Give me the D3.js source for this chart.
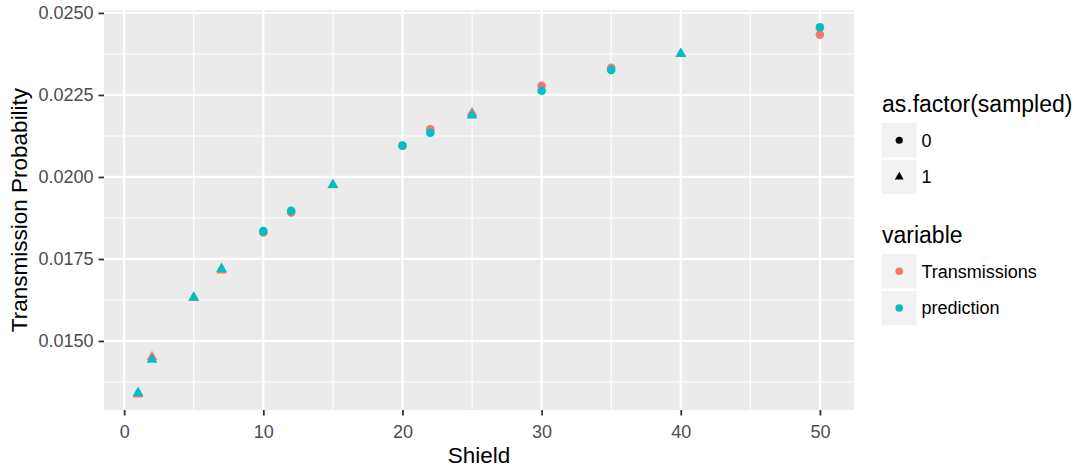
<!DOCTYPE html>
<html>
<head>
<meta charset="utf-8">
<script src="https://cdn.jsdelivr.net/npm/d3@7"></script>
<style>
  body { margin: 0; background: #ffffff; }
  svg { display: block; font-family: "Liberation Sans", Arial, Helvetica, sans-serif; }
</style>
</head>
<body>
<svg id="chart" width="1082" height="472"></svg>
<script>
// Shield settings and the observed / predicted transmission probability
const shield        = [1, 2, 5, 7, 10, 12, 15, 20, 22, 25, 30, 35, 40, 50];
const sampled       = [1, 1, 1, 1, 0, 0, 1, 0, 0, 1, 0, 0, 1, 0];
const transmissions = [0.01337, 0.01451, 0.01631, 0.01715, 0.01831, 0.01892, 0.01975,
                       0.02095, 0.02145, 0.02195, 0.02278, 0.02333, 0.02375, 0.02434];
const prediction    = [0.01342, 0.01443, 0.01633, 0.01720, 0.01835, 0.01897, 0.01976,
                       0.02096, 0.02135, 0.02188, 0.02263, 0.02326, 0.02376, 0.02456];

const xTicks = [0, 10, 20, 30, 40, 50];
const xMinor = [5, 15, 25, 35, 45];
const yTicks = [0.0150, 0.0175, 0.0200, 0.0225, 0.0250];
const yMinor = [0.01375, 0.01625, 0.01875, 0.02125, 0.02375];

const shapeLevels    = ["0", "1"];
const variableLevels = ["Transmissions", "prediction"];
const variableColors = ["#F8766D", "#00BFC4"];

// long-format rows: one per (shield, variable)
const series = [transmissions, prediction];
const rows = [];
variableLevels.forEach((v, vi) => {
  shield.forEach((s, i) => {
    rows.push({ shield: s, value: series[vi][i], sampled: String(sampled[i]), variable: v });
  });
});

const panel = { left: 104, right: 854, top: 10, bottom: 410 };

const x = d3.scaleLinear().domain([-1.45, 52.45]).range([panel.left, panel.right]);
const y = d3.scaleLinear().domain([0.012896, 0.02509]).range([panel.bottom, panel.top]);
const color = d3.scaleOrdinal().domain(variableLevels).range(variableColors);

const svg = d3.select("#chart");

// filled triangle in the style of R's pch 17, centred on its centroid
function triPath(R) {
  const r = 1.5551 * R, xc = 1.3468 * R, yc = 0.7776 * R;
  return `M0,${-r}L${xc},${yc}L${-xc},${yc}Z`;
}

// panel background and grid
svg.append("rect")
  .attr("x", panel.left).attr("y", panel.top)
  .attr("width", panel.right - panel.left).attr("height", panel.bottom - panel.top)
  .attr("fill", "#EBEBEB");

const grid = svg.append("g");
grid.selectAll(".ymin").data(yMinor).join("line")
  .attr("x1", panel.left).attr("x2", panel.right)
  .attr("y1", d => y(d)).attr("y2", d => y(d))
  .attr("stroke", "#ffffff").attr("stroke-width", 1.1);
grid.selectAll(".xmin").data(xMinor).join("line")
  .attr("y1", panel.top).attr("y2", panel.bottom)
  .attr("x1", d => x(d)).attr("x2", d => x(d))
  .attr("stroke", "#ffffff").attr("stroke-width", 1.1);
grid.selectAll(".ymaj").data(yTicks).join("line")
  .attr("x1", panel.left).attr("x2", panel.right)
  .attr("y1", d => y(d)).attr("y2", d => y(d))
  .attr("stroke", "#ffffff").attr("stroke-width", 2.2);
grid.selectAll(".xmaj").data(xTicks).join("line")
  .attr("y1", panel.top).attr("y2", panel.bottom)
  .attr("x1", d => x(d)).attr("x2", d => x(d))
  .attr("stroke", "#ffffff").attr("stroke-width", 2.2);

// axes
const xAxis = d3.axisBottom(x).tickValues(xTicks).tickSize(5.5).tickPadding(5).tickFormat(d3.format("d"));
const yAxis = d3.axisLeft(y).tickValues(yTicks).tickSize(5.5).tickPadding(5).tickFormat(d3.format(".4f"));

const gx = svg.append("g").attr("transform", `translate(0,${panel.bottom})`).call(xAxis);
const gy = svg.append("g").attr("transform", `translate(${panel.left},0)`).call(yAxis);
[gx, gy].forEach(g => {
  g.select(".domain").remove();
  g.selectAll(".tick line").attr("stroke", "#333333").attr("stroke-width", 1.8);
  g.selectAll(".tick text").attr("fill", "#4D4D4D").style("font-size", "18px");
});
gx.selectAll(".tick text").attr("dy", "0.95em");

// axis titles
svg.append("text")
  .attr("x", (panel.left + panel.right) / 2).attr("y", 463)
  .attr("text-anchor", "middle").style("font-size", "22.5px").attr("fill", "#000")
  .text("Shield");
svg.append("text")
  .attr("transform", `translate(27,${(panel.top + panel.bottom) / 2}) rotate(-90)`)
  .attr("text-anchor", "middle").style("font-size", "22.5px").attr("fill", "#000")
  .text("Transmission Probability");

// points: Transmissions first, prediction drawn over it
const pts = svg.append("g");
rows.forEach(d => {
  const cx = x(d.shield), cy = y(d.value), fill = color(d.variable);
  if (d.sampled === "1") {
    pts.append("path").attr("d", triPath(4)).attr("transform", `translate(${cx},${cy})`).attr("fill", fill);
  } else {
    pts.append("circle").attr("cx", cx).attr("cy", cy).attr("r", 4.3).attr("fill", fill);
  }
});

// legends
const lgX = 882, keySize = 34.5, keyStep = 36.7;
function legend(title, titleY, labels, drawKey) {
  const g = svg.append("g");
  g.append("text").attr("x", lgX).attr("y", titleY).style("font-size", "23px").attr("fill", "#000").text(title);
  labels.forEach((lab, i) => {
    const ky = titleY + 11 + i * keyStep;
    g.append("rect").attr("x", lgX).attr("y", ky).attr("width", keySize).attr("height", keySize).attr("fill", "#F2F2F2");
    drawKey(g, lgX + keySize / 2, ky + keySize / 2, i);
    g.append("text").attr("x", lgX + keySize + 5).attr("y", ky + keySize / 2).attr("dy", "0.35em")
      .style("font-size", "18px").attr("fill", "#000").text(lab);
  });
}
legend("as.factor(sampled)", 112, shapeLevels, (g, cx, cy, i) => {
  if (i === 0) g.append("circle").attr("cx", cx).attr("cy", cy).attr("r", 3.6).attr("fill", "#000");
  else g.append("path").attr("d", triPath(3.3)).attr("transform", `translate(${cx},${cy})`).attr("fill", "#000");
});
legend("variable", 243, variableLevels, (g, cx, cy, i) => {
  g.append("circle").attr("cx", cx).attr("cy", cy).attr("r", 3.8).attr("fill", color(variableLevels[i]));
});
</script>
</body>
</html>
